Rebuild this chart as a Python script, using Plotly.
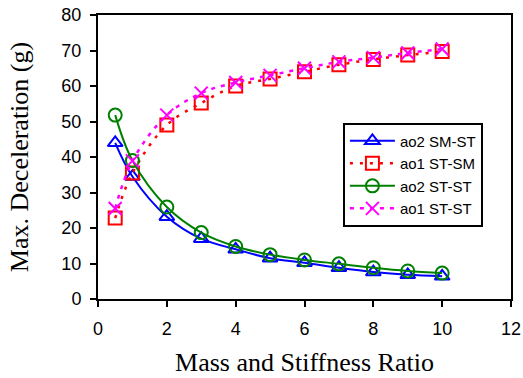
import plotly.graph_objects as go

x = [0.5, 1, 2, 3, 4, 5, 6, 7, 8, 9, 10]
ao2_sm_st = [44, 34.5, 23.2, 17, 14, 11.5, 10.2, 8.8, 7.6, 6.8, 6.4]
ao1_st_sm = [22.8, 35.5, 49, 55.2, 60, 62, 64, 66, 67.5, 68.7, 69.7]
ao2_st_st = [51.8, 39, 25.9, 18.7, 14.8, 12.5, 11, 9.9, 8.8, 7.9, 7.3]
ao1_st_st = [25.5, 38.9, 51.8, 58, 61, 63, 65, 66.8, 68, 69.3, 70.4]

fig = go.Figure()
fig.add_trace(go.Scatter(x=x, y=ao2_sm_st, name="ao2 SM-ST", mode="lines+markers",
    line=dict(color="#0000ff", width=2, shape="spline"),
    marker=dict(symbol="triangle-up-open", size=13, color="#0000ff", line=dict(width=2))))
fig.add_trace(go.Scatter(x=x, y=ao1_st_sm, name="ao1 ST-SM", mode="lines+markers",
    line=dict(color="#ff0000", width=2.5, shape="spline", dash="3px,7px"),
    marker=dict(symbol="square-open", size=13, color="#ff0000", line=dict(width=2))))
fig.add_trace(go.Scatter(x=x, y=ao2_st_st, name="ao2 ST-ST", mode="lines+markers",
    line=dict(color="#008000", width=2, shape="spline"),
    marker=dict(symbol="circle-open", size=13, color="#008000", line=dict(width=2))))
fig.add_trace(go.Scatter(x=x, y=ao1_st_st, name="ao1 ST-ST", mode="lines+markers",
    line=dict(color="#ff00ff", width=2.5, shape="spline", dash="4px,6px"),
    marker=dict(symbol="x-thin-open", size=13, color="#ff00ff", line=dict(width=2))))

serif = "Liberation Serif, Times New Roman, serif"
fig.update_layout(
    width=523, height=378,
    margin=dict(l=98, r=12, t=15, b=79),
    paper_bgcolor="white", plot_bgcolor="white",
    font=dict(family="Liberation Sans, Arial, sans-serif", size=18, color="black"),
    legend=dict(x=0.932, y=0.438, xanchor="right", yanchor="middle",
                bordercolor="black", borderwidth=2, bgcolor="white",
                font=dict(size=15), tracegroupgap=0, itemwidth=45),
    xaxis=dict(range=[0, 12], dtick=2, tick0=0, showgrid=False, zeroline=False,
               showline=True, linecolor="black", linewidth=2, mirror=True,
               ticks="outside", ticklen=6, tickwidth=2, tickcolor="black",
               ticklabelstandoff=6, automargin=False,
               title=dict(text="Mass and Stiffness Ratio", font=dict(family=serif, size=26), standoff=15)),
    yaxis=dict(range=[0, 80], dtick=10, tick0=0, showgrid=False, zeroline=False,
               showline=True, linecolor="black", linewidth=2, mirror=True,
               ticks="outside", ticklen=6, tickwidth=2, tickcolor="black",
               ticklabelstandoff=5, automargin=False,
               title=dict(text="Max. Deceleration (g)", font=dict(family=serif, size=26), standoff=25)),
)

fig.write_html("out.html", config={"displayModeBar": False},
               post_script="document.body.style.margin='0';")
